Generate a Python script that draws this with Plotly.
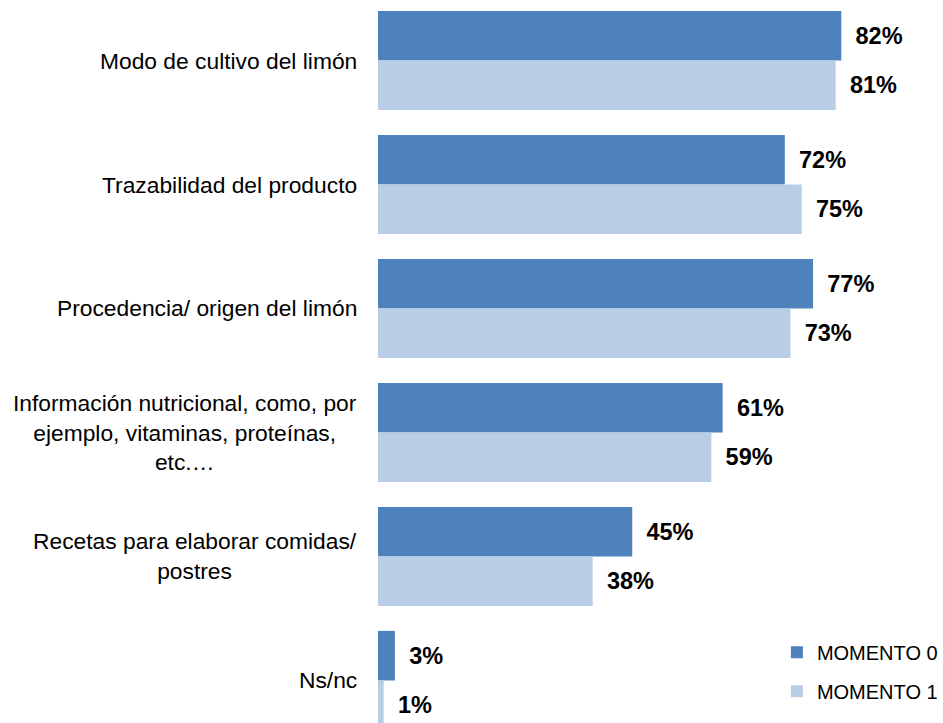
import plotly.graph_objects as go

# Survey items (top to bottom) and share of respondents per moment (%)
categories = [
    "Modo de cultivo del limón",
    "Trazabilidad del producto",
    "Procedencia/ origen del limón",
    "Información nutricional, como, por<br>ejemplo, vitaminas, proteínas,<br>etc.…",
    "Recetas para elaborar comidas/<br>postres",
    "Ns/nc",
]
momento_0 = [82, 72, 77, 61, 45, 3]
momento_1 = [81, 75, 73, 59, 38, 1]
series_names = ["MOMENTO 0", "MOMENTO 1"]
series_colors = ["#4F81BD", "#B9CDE5"]

FONT = "Liberation Sans, Arial, sans-serif"

fig = go.Figure()
for name, vals, color in zip(series_names, [momento_0, momento_1], series_colors):
    fig.add_trace(go.Bar(
        y=categories,
        x=vals,
        name=name,
        orientation="h",
        marker=dict(color=color, line=dict(width=0)),
        text=[f"\u00a0\u2009{v}%" for v in vals],
        textposition="outside",
        textfont=dict(family=FONT, size=23.5, color="#000000", weight="bold"),
        constraintext="none",
        cliponaxis=False,
        legendgroup=name,
    ))

# Category labels, centred line by line, to the left of the bars
for cat in categories:
    fig.add_annotation(
        x=0, xref="paper", y=cat, yref="y",
        xanchor="right", yanchor="middle", xshift=-19,
        text=cat, align="center", showarrow=False,
        font=dict(family=FONT, size=22.8, color="#000000"),
    )

fig.update_layout(
    width=943, height=723,
    margin=dict(l=378, r=0, t=0, b=0, autoexpand=False),
    paper_bgcolor="white", plot_bgcolor="white",
    barmode="group", bargap=0.2, bargroupgap=0,
    showlegend=True,
    legend=dict(
        x=0.706, y=0.071, xanchor="left", yanchor="middle",
        traceorder="grouped", tracegroupgap=10,
        font=dict(family=FONT, size=20, color="#000000"),
        bgcolor="rgba(0,0,0,0)", itemwidth=30,
    ),
    xaxis=dict(range=[0, 100], visible=False, fixedrange=True),
    yaxis=dict(
        type="category", range=[5.343, -0.488],
        showticklabels=False, showgrid=False, zeroline=False,
        showline=False, ticks="",
    ),
)

fig.write_html("out.html")
